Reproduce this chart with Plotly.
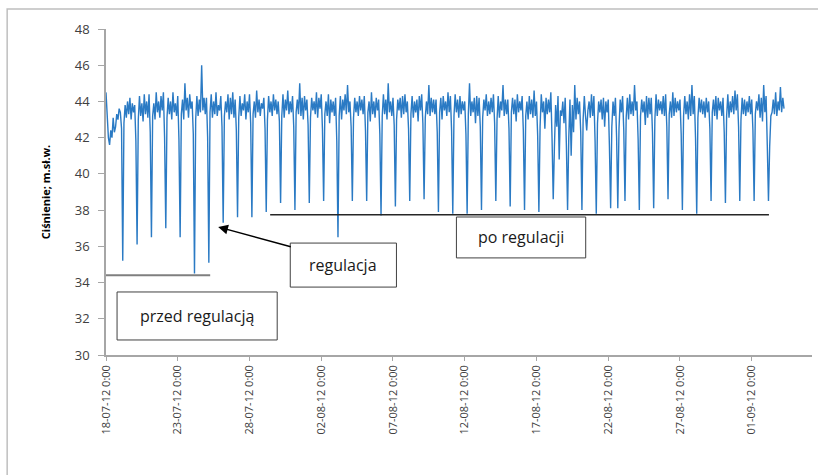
import pandas as pd
import plotly.graph_objects as go

# ---------------- data (2-hourly readings, one row per day: 0:00,2:00,...,22:00) -------------
start_time = "2012-07-18 00:00"
step = "2h"

day_rows = [
    [44.5, 43.2, 42.0, 41.6, 42.4, 42.0, 43.1, 42.3, 42.6, 43.3, 43.0, 43.6],  # 18-07
    [43.4, 42.5, 35.2, 42.8, 43.8, 43.1, 44.0, 43.3, 44.2, 43.0, 43.9, 43.4],
    [43.8, 41.8, 36.1, 43.0, 44.3, 43.2, 43.9, 42.9, 44.4, 43.3, 44.0, 43.1],
    [44.4, 42.3, 36.5, 43.2, 43.9, 43.0, 44.5, 43.4, 44.0, 43.1, 44.3, 43.5],
    [44.5, 42.0, 37.0, 43.1, 44.2, 43.3, 44.0, 43.0, 44.5, 43.4, 43.9, 43.2],
    [44.3, 41.9, 36.5, 43.3, 44.1, 43.0, 45.0, 43.5, 44.2, 43.1, 44.4, 43.6],
    [44.0, 42.2, 34.5, 43.0, 44.3, 43.2, 44.1, 43.4, 46.0, 43.5, 44.2, 43.3],
    [44.2, 42.0, 35.1, 43.4, 44.4, 43.1, 44.0, 43.3, 44.5, 43.2, 43.8, 43.5],
    [44.3, 42.6, 37.3, 43.2, 44.0, 43.4, 44.4, 43.0, 44.2, 43.3, 44.5, 43.1],
    [44.1, 42.4, 37.6, 43.1, 44.3, 43.2, 43.9, 43.5, 44.4, 43.0, 44.0, 43.4],
    [44.4, 42.8, 37.6, 43.3, 44.0, 43.1, 44.6, 43.4, 44.1, 43.2, 43.9, 43.6],
    [44.2, 42.5, 37.9, 43.0, 44.3, 43.4, 44.0, 43.2, 44.4, 43.5, 44.1, 43.3],
    [44.0, 42.9, 38.4, 43.2, 44.4, 43.1, 44.1, 43.5, 44.6, 43.3, 44.0, 43.4],
    [44.3, 42.6, 38.0, 43.4, 44.1, 43.3, 45.0, 43.2, 44.2, 43.0, 44.3, 43.5],
    [44.1, 42.7, 38.4, 43.1, 44.2, 43.5, 44.0, 43.3, 44.5, 43.1, 44.2, 43.6],
    [44.4, 42.5, 38.5, 43.3, 44.0, 43.2, 44.4, 42.8, 44.1, 43.4, 44.0, 43.2],
    [44.2, 41.8, 36.5, 43.2, 44.3, 43.0, 44.1, 43.5, 44.4, 43.3, 44.9, 43.4],
    [44.0, 42.6, 38.5, 43.1, 44.2, 43.4, 44.0, 43.2, 44.3, 43.5, 44.1, 43.3],
    [44.3, 42.4, 38.5, 43.4, 44.0, 42.9, 44.5, 43.3, 44.0, 43.1, 44.2, 43.5],
    [44.1, 42.2, 37.7, 43.2, 44.4, 43.3, 44.1, 43.0, 45.0, 43.4, 44.0, 43.2],
    [44.2, 42.7, 38.2, 43.0, 44.1, 43.5, 44.2, 43.1, 44.3, 43.3, 44.4, 43.4],
    [44.0, 42.5, 38.5, 43.3, 44.3, 43.1, 44.0, 43.4, 44.1, 42.9, 44.3, 43.5],
    [44.4, 42.8, 38.6, 43.1, 44.0, 43.3, 44.9, 43.2, 44.2, 43.4, 44.1, 43.3],
    [44.1, 42.3, 37.9, 43.4, 44.2, 43.0, 44.3, 43.5, 44.0, 43.2, 44.5, 43.4],
    [44.3, 42.4, 37.8, 43.2, 44.4, 43.4, 44.1, 43.1, 44.3, 43.3, 44.0, 43.5],
    [44.0, 42.2, 37.8, 43.3, 45.0, 43.2, 44.0, 43.4, 44.2, 42.8, 44.3, 43.2],
    [44.2, 42.6, 38.0, 43.1, 44.1, 43.5, 44.4, 43.2, 44.0, 43.3, 44.2, 43.4],
    [44.4, 42.8, 38.5, 43.0, 44.3, 43.1, 44.0, 43.5, 44.9, 43.2, 44.1, 43.3],
    [44.1, 42.5, 38.2, 43.4, 44.2, 43.3, 44.1, 42.9, 44.4, 43.4, 44.0, 43.5],
    [44.3, 42.4, 38.0, 43.2, 44.0, 43.0, 44.3, 43.3, 44.1, 43.1, 44.6, 43.2],
    [44.0, 42.1, 37.9, 42.6, 44.4, 43.4, 44.0, 42.5, 44.2, 43.3, 44.1, 43.4],
    [44.5, 42.0, 38.6, 41.5, 43.8, 42.6, 44.3, 40.8, 43.5, 43.2, 44.0, 42.8],
    [44.2, 41.6, 38.0, 42.0, 44.1, 41.0, 43.8, 42.3, 44.9, 43.0, 44.2, 43.3],
    [44.0, 42.3, 38.0, 43.0, 44.3, 43.2, 42.4, 43.5, 44.0, 43.1, 44.4, 43.2],
    [44.3, 41.8, 37.8, 42.8, 44.0, 43.4, 44.1, 43.0, 44.2, 42.6, 44.0, 43.4],
    [44.1, 41.5, 38.1, 42.6, 44.0, 43.2, 44.2, 42.0, 38.1, 42.5, 44.1, 43.4],
    [44.3, 42.4, 38.5, 43.1, 44.2, 43.0, 44.4, 43.3, 44.0, 43.2, 44.9, 43.5],
    [44.0, 41.9, 38.0, 43.2, 44.1, 43.4, 44.0, 42.7, 44.3, 43.1, 44.2, 43.3],
    [44.2, 42.3, 38.1, 43.0, 44.4, 43.2, 44.1, 43.5, 44.0, 43.3, 44.3, 43.2],
    [44.4, 42.6, 38.6, 43.3, 44.0, 43.1, 44.5, 43.2, 44.2, 43.4, 44.0, 43.5],
    [44.1, 42.2, 38.0, 43.2, 44.3, 43.3, 44.0, 43.0, 44.4, 43.2, 44.9, 43.3],
    [44.3, 42.0, 37.8, 43.1, 44.2, 43.4, 44.1, 43.3, 44.0, 43.1, 44.2, 43.4],
    [44.0, 42.5, 38.5, 43.4, 44.1, 43.2, 44.3, 43.0, 44.2, 43.5, 44.0, 43.2],
    [44.2, 42.3, 38.4, 43.2, 44.4, 43.1, 44.0, 43.4, 44.3, 43.3, 44.6, 43.5],
    [44.4, 42.6, 38.5, 43.0, 44.2, 43.3, 44.1, 43.2, 44.0, 43.4, 44.3, 43.3],
    [44.1, 42.4, 38.5, 43.3, 44.0, 43.5, 44.4, 43.1, 44.2, 42.9, 44.9, 43.4],
    [44.3, 41.6, 38.5, 41.5, 43.2, 43.4, 44.1, 43.3, 44.5, 43.2, 44.0, 43.5],
    [44.8, 43.4, 44.2, 43.6],  # 03-09 (partial)
]

tick_dates = ["2012-07-18", "2012-07-23", "2012-07-28", "2012-08-02", "2012-08-07",
              "2012-08-12", "2012-08-17", "2012-08-22", "2012-08-27", "2012-09-01"]
tick_labels = ["18-07-12 0:00", "23-07-12 0:00", "28-07-12 0:00", "02-08-12 0:00",
               "07-08-12 0:00", "12-08-12 0:00", "17-08-12 0:00", "22-08-12 0:00",
               "27-08-12 0:00", "01-09-12 0:00"]

before_level = 34.4
after_level = 37.75

# ---------------- figure ----------------
values = [v for row in day_rows for v in row]
times = pd.date_range(start=start_time, periods=len(values), freq=step)
t0 = pd.Timestamp(start_time)


def at(day):
    return (t0 + pd.Timedelta(days=day)).strftime("%Y-%m-%d %H:%M:%S")


fig = go.Figure()
fig.add_trace(go.Scatter(x=times, y=values, mode="lines",
                         line=dict(color="#2A7AC4", width=1.4),
                         showlegend=False, hoverinfo="skip"))

line_dark = "#262626"
shapes = [
    # reference lines
    dict(type="line", xref="x", yref="y", x0=at(0), x1=at(7.26), y0=before_level, y1=before_level,
         line=dict(color="#7F7F7F", width=2)),
    dict(type="line", xref="x", yref="y", x0=at(11.44), x1=at(46.2), y0=after_level, y1=after_level,
         line=dict(color=line_dark, width=1.5)),
    # text boxes
    dict(type="rect", xref="x", yref="y", x0=at(0.77), x1=at(11.93), y0=30.83, y1=33.48,
         fillcolor="white", line=dict(color="#404040", width=1)),
    dict(type="rect", xref="x", yref="y", x0=at(12.84), x1=at(20.24), y0=33.75, y1=36.18,
         fillcolor="white", line=dict(color="#404040", width=1)),
    dict(type="rect", xref="x", yref="y", x0=at(24.42), x1=at(33.43), y0=35.36, y1=37.62,
         fillcolor="white", line=dict(color="#404040", width=1)),
    # chart-area border
    dict(type="rect", xref="paper", yref="paper", x0=-0.140, x1=1.03, y0=-0.6, y1=1.061,
         line=dict(color="#BFBFBF", width=1.5), fillcolor="rgba(0,0,0,0)", layer="below"),
]

txt_font = dict(family="Open Sans, Liberation Sans, sans-serif", size=16, color="#1A1A1A")
annotations = [
    dict(x=at(6.35), y=32.15, xref="x", yref="y", text="przed regulacją", showarrow=False, font=txt_font),
    dict(x=at(16.54), y=34.95, xref="x", yref="y", text="regulacja", showarrow=False, font=txt_font),
    dict(x=at(28.92), y=36.49, xref="x", yref="y", text="po regulacji", showarrow=False, font=txt_font),
    dict(x=at(7.82), y=37.07, xref="x", yref="y", ax=at(12.98), ay=35.96, axref="x", ayref="y",
         text="", showarrow=True, arrowhead=2, arrowsize=1.3, arrowwidth=1.5, arrowcolor="#000000"),
]

fig.update_layout(
    width=818, height=475,
    margin=dict(l=106, r=6, t=29, b=120),
    paper_bgcolor="white", plot_bgcolor="white",
    shapes=shapes, annotations=annotations,
    showlegend=False,
    font=dict(family="Open Sans, Liberation Sans, sans-serif", color="#404040"),
)
fig.update_xaxes(
    type="date", range=[at(0), at(49.2)],
    tickmode="array", tickvals=tick_dates, ticktext=tick_labels, tickangle=-90,
    tickfont=dict(size=11, color="#404040"),
    showgrid=False, zeroline=False, showline=True, linecolor="#A6A6A6", linewidth=1.5,
    ticks="outside", ticklen=4, tickcolor="#A6A6A6",
)
fig.update_yaxes(
    range=[30, 48], dtick=2, tick0=30,
    tickfont=dict(size=13, color="#404040"),
    showgrid=False, zeroline=False, showline=True, linecolor="#A6A6A6", linewidth=1.5,
    ticks="outside", ticklen=6, tickcolor="#A6A6A6", ticklabelstandoff=6,
    title=dict(text="<b>Ciśnienie; m.sł.w.</b>", font=dict(size=11, color="#000000"), standoff=22),
)

fig.write_html("out.html", config={"displayModeBar": False},
               post_script="document.body.style.margin='0px';")
